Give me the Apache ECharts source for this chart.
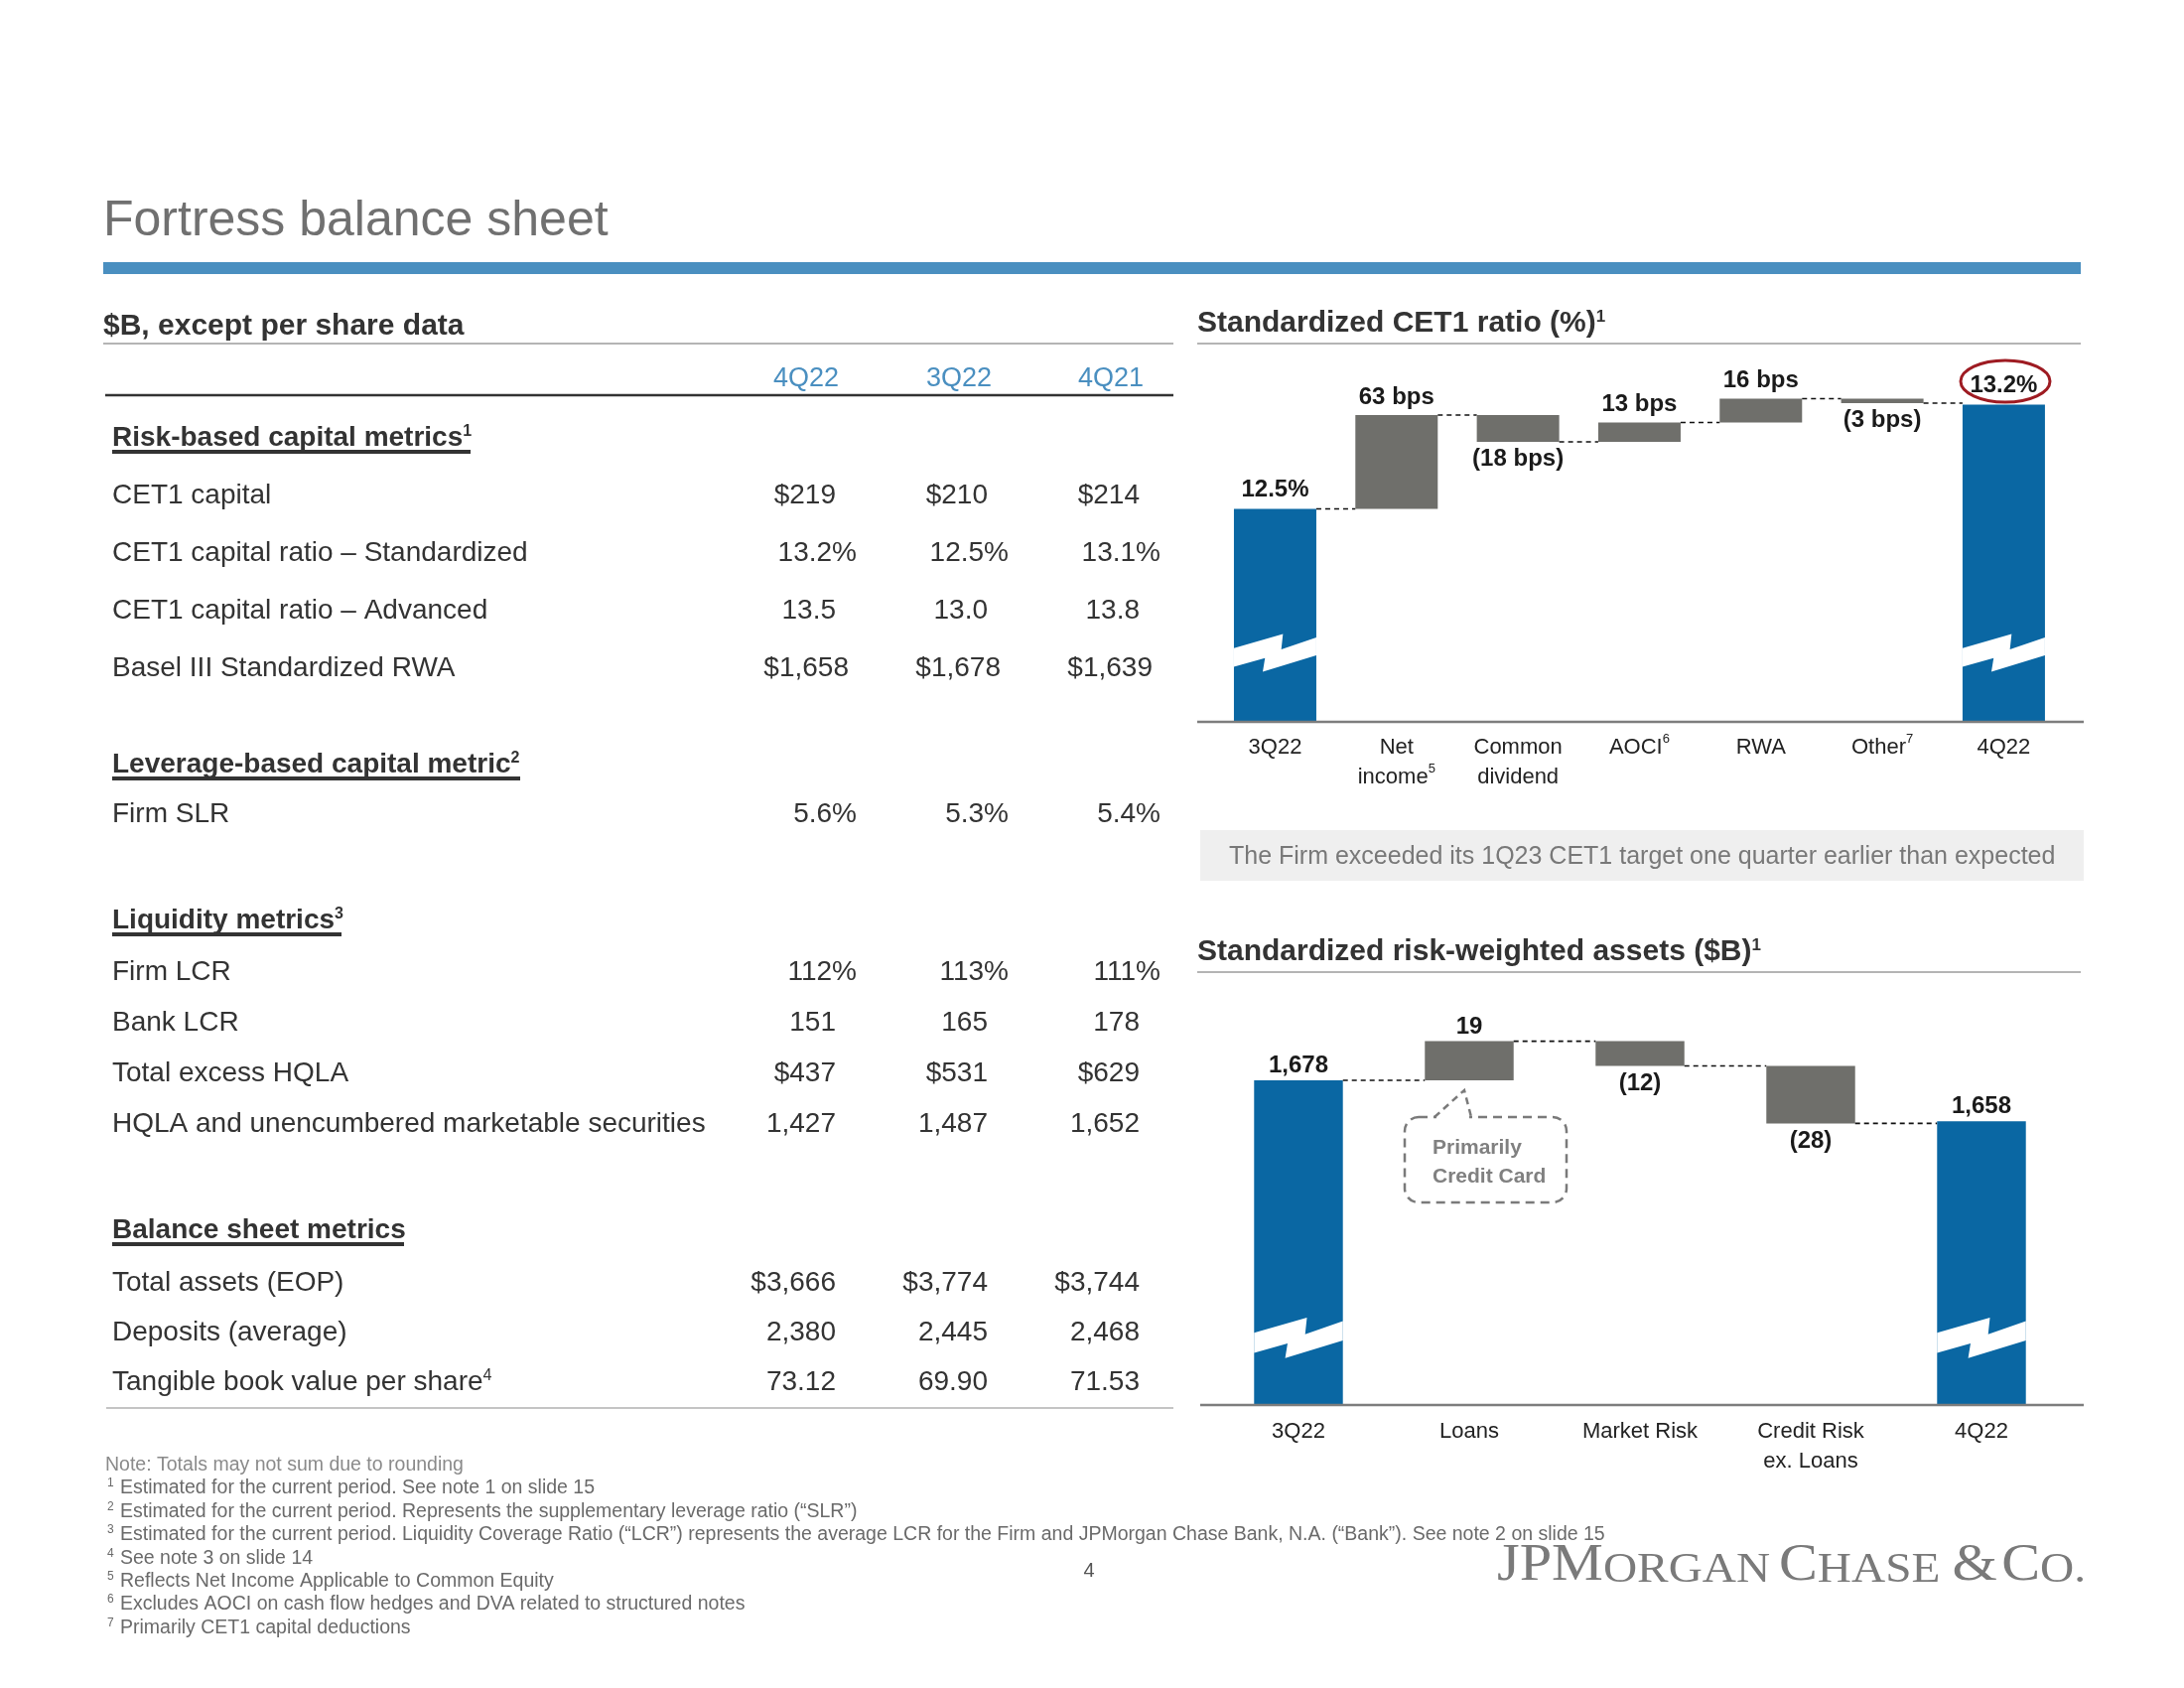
<!DOCTYPE html>
<html><head><meta charset="utf-8">
<script src="https://cdn.jsdelivr.net/npm/echarts@6/dist/echarts.min.js"></script>
<style>html,body{margin:0;padding:0;background:#fff}#c{width:2200px;height:1700px}</style>
</head><body><div id="c"></div>
<script>
// ================= DATA =================
const periods = ['4Q22', '3Q22', '4Q21'];

const riskTitle = 'Risk-based capital metrics';
const riskNote = '1';
const riskLabels = ['CET1 capital', 'CET1 capital ratio – Standardized', 'CET1 capital ratio – Advanced', 'Basel III Standardized RWA'];
const riskValues = [['$219', '$210', '$214'], ['13.2%', '12.5%', '13.1%'], ['13.5', '13.0', '13.8'], ['$1,658', '$1,678', '$1,639']];

const leverageTitle = 'Leverage-based capital metric';
const leverageNote = '2';
const leverageLabels = ['Firm SLR'];
const leverageValues = [['5.6%', '5.3%', '5.4%']];

const liquidityTitle = 'Liquidity metrics';
const liquidityNote = '3';
const liquidityLabels = ['Firm LCR', 'Bank LCR', 'Total excess HQLA', 'HQLA and unencumbered marketable securities'];
const liquidityValues = [['112%', '113%', '111%'], ['151', '165', '178'], ['$437', '$531', '$629'], ['1,427', '1,487', '1,652']];

const balanceTitle = 'Balance sheet metrics';
const balanceLabels = ['Total assets (EOP)', 'Deposits (average)', 'Tangible book value per share'];
const balanceLabelNotes = ['', '', '4'];
const balanceValues = [['$3,666', '$3,774', '$3,744'], ['2,380', '2,445', '2,468'], ['73.12', '69.90', '71.53']];

const cet1Categories = ['3Q22', 'Net\nincome', 'Common\ndividend', 'AOCI', 'RWA', 'Other', '4Q22'];
const cet1CategoryNotes = ['', '5', '', '6', '', '7', ''];
const cet1Start = 12.5;          // %
const cet1DeltasBps = [63, -18, 13, 16, -3];
const cet1End = 13.2;            // %

const rwaCategories = ['3Q22', 'Loans', 'Market Risk', 'Credit Risk\nex. Loans', '4Q22'];
const rwaStart = 1678;
const rwaDeltas = [19, -12, -28];
const rwaEnd = 1658;

const footnoteIntro = 'Note: Totals may not sum due to rounding';
const footnoteMarks = ['1', '2', '3', '4', '5', '6', '7'];
const footnoteTexts = [
  'Estimated for the current period. See note 1 on slide 15',
  'Estimated for the current period. Represents the supplementary leverage ratio (“SLR”)',
  'Estimated for the current period. Liquidity Coverage Ratio (“LCR”) represents the average LCR for the Firm and JPMorgan Chase Bank, N.A. (“Bank”). See note 2 on slide 15',
  'See note 3 on slide 14',
  'Reflects Net Income Applicable to Common Equity',
  'Excludes AOCI on cash flow hedges and DVA related to structured notes',
  'Primarily CET1 capital deductions'
];

// ================= STYLE / LAYOUT =================
const FONT = '"Liberation Sans", Arial, Helvetica, sans-serif';
const SERIF = '"Liberation Serif", "Times New Roman", serif';
const BLUE = '#0a67a3';
const GRAY = '#6f6f6b';
const HEAD_BLUE = '#4a8fc0';
const TXT = '#333333';

const G = [];
function txt(x, y, text, o) {
  const st = Object.assign({
    text: text, fontFamily: FONT, fontSize: 28, fontWeight: 'normal', fill: TXT,
    align: 'left', textAlign: 'left', verticalAlign: 'middle', textVerticalAlign: 'middle'
  }, o || {});
  if (st.align !== 'left') st.textAlign = st.align;
  G.push({ type: 'text', x: x, y: y + 2, silent: true, z: 50, style: st });
}
function rect(x, y, w, h, fill, z) {
  G.push({ type: 'rect', silent: true, z: z || 5, shape: { x: x, y: y, width: w, height: h }, style: { fill: fill } });
}
function hline(x1, x2, y, stroke, lw, z) {
  G.push({ type: 'line', silent: true, z: z || 60, shape: { x1: x1, y1: y, x2: x2, y2: y }, style: { stroke: stroke, lineWidth: lw } });
}
function supRich(size, color, weight) {
  return { sup: { fontSize: size, fontFamily: FONT, fill: color, fontWeight: weight || 'normal', verticalAlign: 'top' } };
}

// ---- page title ----
txt(104, 221, 'Fortress balance sheet', { fontSize: 50, fill: '#707070' });
rect(104, 264, 1992, 12, HEAD_BLUE);

// ---- left table ----
txt(104, 327, '$B, except per share data', { fontSize: 30, fontWeight: 'bold', fill: TXT });
hline(104, 1182, 346, '#b4b4b4', 2);
const headerCenters = [812, 966, 1119];
periods.forEach((p, i) => txt(headerCenters[i], 380, p, { fontSize: 27, fill: HEAD_BLUE, align: 'center' }));
hline(106, 1182, 398, '#333333', 2.5);

const colRight = [842, 995, 1148];
const pctHang = 21;
function heading(title, note, y, ulWidth) {
  txt(113, y, title + (note ? '{sup|' + note + '}' : ''), { fontSize: 28, fontWeight: 'bold', rich: supRich(16, TXT, 'bold') });
  rect(113, y + 14, ulWidth, 4, '#333333', 6);
}
function rows(labels, notes, values, ys, extra) {
  labels.forEach((lab, r) => {
    const n = notes && notes[r];
    txt(113, ys[r], lab + (n ? '{sup|' + n + '}' : ''), { rich: supRich(16, TXT) });
    values[r].forEach((v, c) => {
      const off = (/%$/.test(v) ? pctHang : 0) + (extra ? extra[r] : 0);
      txt(colRight[c] + off, ys[r], v, { align: 'right' });
    });
  });
}
heading(riskTitle, riskNote, 439, 361);
rows(riskLabels, null, riskValues, [497, 555, 613, 671], [0, 0, 0, 13]);
heading(leverageTitle, leverageNote, 768, 411);
rows(leverageLabels, null, leverageValues, [818]);
heading(liquidityTitle, liquidityNote, 925, 231);
rows(liquidityLabels, null, liquidityValues, [977, 1028, 1079, 1130]);
heading(balanceTitle, '', 1237, 294);
rows(balanceLabels, balanceLabelNotes, balanceValues, [1290, 1340, 1390]);
hline(107, 1182, 1418, '#c4c4c4', 2);

// ---- right side titles ----
txt(1206, 324, 'Standardized CET1 ratio (%){sup|1}', { fontSize: 30, fontWeight: 'bold', rich: supRich(17, TXT, 'bold') });
hline(1206, 2096, 346, '#b4b4b4', 2);
rect(1209, 836, 890, 51, '#efefef');
txt(1238, 861, 'The Firm exceeded its 1Q23 CET1 target one quarter earlier than expected', { fontSize: 25, fill: '#787878' });
txt(1206, 957, 'Standardized risk-weighted assets ($B){sup|1}', { fontSize: 30, fontWeight: 'bold', rich: supRich(17, TXT, 'bold') });
hline(1206, 2096, 979, '#b4b4b4', 2);

// axis baselines
hline(1206, 2099, 727, '#7d7d7d', 2.5, 100);
hline(1209, 2099, 1415, '#7d7d7d', 2.5, 100);

// red circle around the ending CET1 ratio
G.push({ type: 'ellipse', silent: true, z: 60, shape: { cx: 2020, cy: 384, rx: 45, ry: 21 }, style: { fill: 'none', stroke: '#9e1b22', lineWidth: 3 } });

// callout "Primarily Credit Card"
G.push({ type: 'rect', silent: true, z: 60, shape: { x: 1415, y: 1125, width: 163, height: 86, r: 14 }, style: { fill: 'none', stroke: '#7a7a7a', lineWidth: 2.5, lineDash: [9, 6] } });
G.push({ type: 'line', silent: true, z: 61, shape: { x1: 1447, y1: 1125, x2: 1480, y2: 1125 }, style: { stroke: '#ffffff', lineWidth: 5 } });
G.push({ type: 'polyline', silent: true, z: 62, shape: { points: [[1445, 1125], [1475, 1098], [1482, 1125]] }, style: { fill: 'none', stroke: '#7a7a7a', lineWidth: 2.5, lineDash: [7, 5] } });
txt(1443, 1154, 'Primarily', { fontSize: 21, fontWeight: 'bold', fill: '#808080' });
txt(1443, 1183, 'Credit Card', { fontSize: 21, fontWeight: 'bold', fill: '#808080' });

// ---- footnotes ----
txt(106, 1474, footnoteIntro, { fontSize: 19.5, fill: '#8a8a8a' });
footnoteMarks.forEach((m, i) => {
  const y = 1497 + i * 23.4;
  txt(108, y - 5, m, { fontSize: 12, fill: '#6a6a6a' });
  txt(121, y, footnoteTexts[i], { fontSize: 19.5, fill: '#6a6a6a' });
});
txt(1097, 1580, '4', { fontSize: 20, fill: '#555', align: 'center' });

// ---- logo ----
G.push({
  type: 'text', x: 1508, y: 1577, scaleX: 1.1, silent: true, z: 50,
  style: {
    text: '{b|JPM}{sg|ORGAN}{b|C}{sg2|HASE}{bg|&}{b|C}{s|O.}',
    align: 'left', textAlign: 'left', verticalAlign: 'middle', textVerticalAlign: 'middle', fill: '#7a7a7a',
    rich: {
      b: { fontSize: 53, fontFamily: SERIF, fill: '#7a7a7a', verticalAlign: 'bottom' },
      bg: { fontSize: 53, fontFamily: SERIF, fill: '#7a7a7a', verticalAlign: 'bottom', padding: [0, 4, 0, 0] },
      s: { fontSize: 43, fontFamily: SERIF, fill: '#7a7a7a', verticalAlign: 'bottom' },
      sg: { fontSize: 43, fontFamily: SERIF, fill: '#7a7a7a', verticalAlign: 'bottom', padding: [0, 8, 0, 0] },
      sg2: { fontSize: 43, fontFamily: SERIF, fill: '#7a7a7a', verticalAlign: 'bottom', padding: [0, 11, 0, 0] }
    }
  }
});

// ================= WATERFALL HELPERS =================
// item: [index, low, high, kind(0 total, 1 up, -1 down), connectorLevel, hasConnector]
function buildWaterfall(start, deltas, end, axisMin) {
  const items = [[0, axisMin, start, 0, start, 1]];
  let level = start;
  deltas.forEach((d, k) => {
    const next = level + d;
    items.push([k + 1, Math.min(level, next), Math.max(level, next), d > 0 ? 1 : -1, next, 1]);
    level = next;
  });
  items.push([deltas.length + 1, axisMin, end, 0, end, 0]);
  return items;
}
// lightning-break shape: [fraction of bar width, px offset (for an 84px wide bar)]
const ZIG = [[0, -5.3], [0.595, -19.7], [0.575, -4], [1, -16.3], [1, 2], [0.35, 18.7], [0.377, 4.7], [0, 13.7]];

function waterfallRenderer(cfg) {
  return function (params, api) {
    const idx = params.dataIndex;
    const i = api.value(0), low = api.value(1), high = api.value(2), kind = api.value(3);
    const conn = api.value(4), hasConn = api.value(5);
    const band = api.size([1, 0])[0];
    const w = band * cfg.barRatio;
    const top = api.coord([i, high]);
    const bot = api.coord([i, low]);
    const x0 = top[0] - w / 2;
    const ch = [{ type: 'rect', shape: { x: x0, y: top[1], width: w, height: bot[1] - top[1] }, style: { fill: kind === 0 ? BLUE : GRAY } }];
    if (kind === 0) {
      const yb = api.coord([i, cfg.breakValue])[1];
      const s = w / 84;
      ch.push({ type: 'polygon', shape: { points: ZIG.map(p => [x0 + p[0] * w, yb + p[1] * s]) }, style: { fill: '#ffffff' } });
    }
    if (hasConn) {
      const yc = api.coord([i, conn])[1];
      const nx = api.coord([i + 1, conn])[0] - w / 2;
      ch.push({ type: 'line', shape: { x1: x0 + w, y1: yc, x2: nx, y2: yc }, style: { stroke: '#111', lineWidth: 1.6, lineDash: [5, 4] } });
    }
    const above = kind >= 0;
    const dist = kind === 0 ? cfg.totalDist : (above ? cfg.upDist : cfg.downDist);
    ch.push({
      type: 'text',
      style: {
        text: cfg.labels[idx], x: top[0], y: above ? top[1] - dist : bot[1] + dist,
        align: 'center', textAlign: 'center',
        verticalAlign: above ? 'bottom' : 'top', textVerticalAlign: above ? 'bottom' : 'top',
        fontFamily: FONT, fontSize: 24, fontWeight: 'bold', fill: '#1a1a1a'
      }
    });
    return { type: 'group', children: ch };
  };
}

// CET1 chart
const cet1Min = 11.07, cet1Max = 13.6;
const cet1Items = buildWaterfall(cet1Start, cet1DeltasBps.map(d => d / 100), cet1End, cet1Min);
const cet1Labels = [cet1Start.toFixed(1) + '%']
  .concat(cet1DeltasBps.map(d => d > 0 ? d + ' bps' : '(' + (-d) + ' bps)'))
  .concat([cet1End.toFixed(1) + '%']);

// RWA chart
const rwaMin = 1520, rwaMax = 1720;
const rwaItems = buildWaterfall(rwaStart, rwaDeltas, rwaEnd, rwaMin);
const fmt = v => v.toLocaleString('en-US');
const rwaLabels = [fmt(rwaStart)]
  .concat(rwaDeltas.map(d => d > 0 ? String(d) : '(' + (-d) + ')'))
  .concat([fmt(rwaEnd)]);

function catAxis(gridIndex, data, notes, margin) {
  return {
    gridIndex: gridIndex, type: 'category', data: data,
    axisLine: { show: false }, axisTick: { show: false }, splitLine: { show: false },
    axisLabel: {
      interval: 0, margin: margin, fontSize: 22, lineHeight: 30, color: '#222', fontFamily: FONT,
      formatter: (v, i) => v + (notes && notes[i] ? '{sup|' + notes[i] + '}' : ''),
      rich: { sup: { fontSize: 13, color: '#222', fontFamily: FONT, verticalAlign: 'top', lineHeight: 16 } }
    }
  };
}

const option = {
  animation: false,
  backgroundColor: '#ffffff',
  grid: [
    { left: 1223.3, top: 347.5, width: 856.3, height: 379.5 },
    { left: 1222, top: 1001, width: 860, height: 414 }
  ],
  xAxis: [
    catAxis(0, cet1Categories, cet1CategoryNotes, 11),
    catAxis(1, rwaCategories, null, 12)
  ],
  yAxis: [
    { gridIndex: 0, type: 'value', min: cet1Min, max: cet1Max, show: false },
    { gridIndex: 1, type: 'value', min: rwaMin, max: rwaMax, show: false }
  ],
  series: [
    {
      type: 'custom', name: 'CET1', coordinateSystem: 'cartesian2d', xAxisIndex: 0, yAxisIndex: 0,
      data: cet1Items, encode: { x: 0, y: [1, 2] }, clip: false, silent: true, z: 10,
      renderItem: waterfallRenderer({ barRatio: 0.6785, breakValue: 11.53, labels: cet1Labels, totalDist: 7, upDist: 6, downDist: 5 })
    },
    {
      type: 'custom', name: 'RWA', coordinateSystem: 'cartesian2d', xAxisIndex: 1, yAxisIndex: 1,
      data: rwaItems, encode: { x: 0, y: [1, 2] }, clip: false, silent: true, z: 10,
      renderItem: waterfallRenderer({ barRatio: 0.52, breakValue: 1552.4, labels: rwaLabels, totalDist: 3, upDist: 2, downDist: 6 })
    }
  ],
  graphic: { elements: G }
};

const chart = echarts.init(document.getElementById('c'), null, { renderer: 'canvas', width: 2200, height: 1700 });
chart.setOption(option);
</script>
</body></html>
